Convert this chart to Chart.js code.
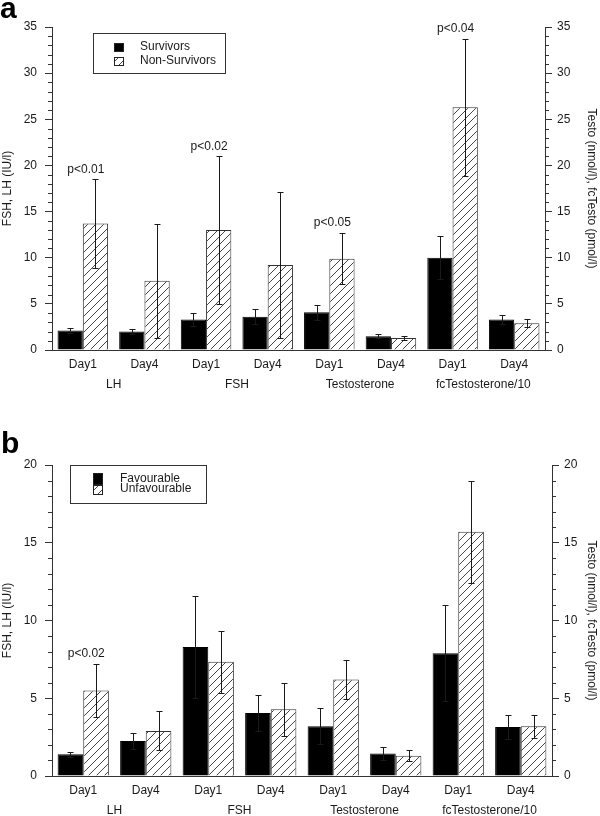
<!DOCTYPE html>
<html>
<head>
<meta charset="utf-8">
<script src="https://cdn.jsdelivr.net/npm/chart.js@4.4.0/dist/chart.umd.min.js"></script>
<style>
  html, body { margin: 0; padding: 0; background: #fff; }
  body { width: 600px; height: 816px; position: relative; overflow: hidden; font-family: "Liberation Sans", Arial, sans-serif; }
  .panel-letter { position: absolute; font-weight: bold; font-size: 30px; line-height: 1; color: #000; }
  #wrapA { position: absolute; left: 0; top: 0; width: 600px; height: 400px; }
  #wrapB { position: absolute; left: 0; top: 400px; width: 600px; height: 416px; }
</style>
</head>
<body>
<div id="wrapA"><canvas id="chartA"></canvas></div>
<div id="wrapB"><canvas id="chartB"></canvas></div>
<div class="panel-letter" style="left:0;top:-7px">a</div>
<div class="panel-letter" style="left:1px;top:428px">b</div>
<script>
// categories
const dayLabels = ['Day1', 'Day4', 'Day1', 'Day4', 'Day1', 'Day4', 'Day1', 'Day4'];
const groups = ['LH', 'FSH', 'Testosterone', 'fcTestosterone/10'];

// panel a: mean and error
const survivors = [2.1, 2.0, 3.3, 3.6, 4.1, 1.5, 10.0, 3.3];
const survivorsErr = [0.3, 0.3, 0.7, 0.8, 0.8, 0.2, 2.3, 0.5];
const nonSurvivors = [13.7, 7.5, 13.0, 9.2, 9.9, 1.3, 26.3, 2.9];
const nonSurvivorsErr = [4.8, 6.2, 8.0, 7.9, 2.8, 0.25, 7.4, 0.45];
const pLabelsA = [[0, 'p<0.01'], [2, 'p<0.02'], [4, 'p<0.05'], [6, 'p<0.04']];

// panel b
const favourable = [1.4, 2.25, 8.3, 4.05, 3.2, 1.45, 7.9, 3.15];
const favourableErr = [0.15, 0.5, 3.3, 1.15, 1.15, 0.4, 3.1, 0.75];
const unfavourable = [5.5, 2.9, 7.35, 4.3, 6.2, 1.3, 15.7, 3.2];
const unfavourableErr = [1.7, 1.25, 2.0, 1.7, 1.25, 0.35, 3.3, 0.75];
const pLabelsB = [[0, 'p<0.02']];

const leftTitle = 'FSH, LH (IU/l)';
const rightTitle = 'Testo (nmol/l), fcTesto (pmol/l)';

const FONT = '"Liberation Sans", Arial, sans-serif';
const TEXT = '#1a1a1a';
const AXIS = '#333';

function makeHatch(canvas) {
  const c = document.createElement('canvas');
  c.width = 8; c.height = 8;
  const g = c.getContext('2d');
  g.fillStyle = '#fff';
  g.fillRect(0, 0, 8, 8);
  g.strokeStyle = '#444';
  g.lineWidth = 1;
  g.beginPath();
  g.moveTo(0, 8); g.lineTo(8, 0);
  g.moveTo(-4, 4); g.lineTo(4, -4);
  g.moveTo(4, 12); g.lineTo(12, 4);
  g.stroke();
  return canvas.getContext('2d').createPattern(c, 'repeat');
}

// error bars, minor ticks, group labels, p labels, legend box
const extrasPlugin = {
  id: 'extras',
  afterDatasetsDraw(chart, args, opts) {
    const ctx = chart.ctx;
    const y = chart.scales.y;
    ctx.save();
    ctx.strokeStyle = '#1a1a1a';
    ctx.lineWidth = 1;
    chart.data.datasets.forEach((ds, di) => {
      const meta = chart.getDatasetMeta(di);
      meta.data.forEach((bar, i) => {
        const v = ds.data[i], e = ds.errors[i];
        const x = Math.round(bar.x) + 0.5;
        const yt = Math.round(y.getPixelForValue(v + e)) + 0.5;
        const yb = Math.round(y.getPixelForValue(v - e)) + 0.5;
        ctx.beginPath();
        ctx.moveTo(x, yb); ctx.lineTo(x, yt);
        ctx.moveTo(x - 3, yt); ctx.lineTo(x + 3, yt);
        ctx.moveTo(x - 3, yb); ctx.lineTo(x + 3, yb);
        ctx.stroke();
      });
    });
    ctx.restore();
  },
  afterDraw(chart, args, opts) {
    const ctx = chart.ctx;
    const xs = chart.scales.x, y = chart.scales.y, y2 = chart.scales.y2;
    const area = chart.chartArea;
    ctx.save();
    // minor ticks
    ctx.strokeStyle = AXIS;
    ctx.lineWidth = 1;
    ctx.beginPath();
    for (let v = y.min; v <= y.max; v++) {
      if (v % 5 === 0) continue;
      const py = Math.round(y.getPixelForValue(v)) + 0.5;
      ctx.moveTo(area.left, py); ctx.lineTo(area.left - 4, py);
      const py2 = Math.round(y2.getPixelForValue(v)) + 0.5;
      ctx.moveTo(area.right, py2); ctx.lineTo(area.right + 4, py2);
    }
    ctx.stroke();

    ctx.fillStyle = TEXT;
    ctx.font = '12px ' + FONT;
    ctx.textAlign = 'center';
    ctx.textBaseline = 'middle';
    // group labels
    groups.forEach((g, gi) => {
      const px = (xs.getPixelForValue(gi * 2) + xs.getPixelForValue(gi * 2 + 1)) / 2;
      ctx.fillText(g, px, area.bottom + opts.groupOffset);
    });
    // p values above the second series
    const ds = chart.data.datasets[1];
    ctx.textBaseline = 'bottom';
    opts.pLabels.forEach(([i, t]) => {
      const py = y.getPixelForValue(ds.data[i] + ds.errors[i]);
      ctx.fillText(t, xs.getPixelForValue(i) + 3, py - 4);
    });

    // legend
    const L = opts.legend;
    ctx.strokeStyle = AXIS;
    ctx.strokeRect(L.box[0] + 0.5, L.box[1] + 0.5, L.box[2], L.box[3]);
    ctx.textAlign = 'left';
    ctx.textBaseline = 'middle';
    L.items.forEach((it, di) => {
      const d = chart.data.datasets[di];
      ctx.fillStyle = d.backgroundColor;
      ctx.fillRect(it.sx, it.sy, it.sw, it.sh);
      ctx.strokeStyle = '#222';
      ctx.strokeRect(it.sx + 0.5, it.sy + 0.5, it.sw - 1, it.sh - 1);
      ctx.fillStyle = TEXT;
      ctx.fillText(d.label, it.tx, it.ty);
    });
    ctx.restore();
  }
};

function buildChart(id, cfg) {
  const canvas = document.getElementById(id);
  const hatch = makeHatch(canvas);
  const yAxis = (pos, width, pad) => ({
    position: pos,
    min: 0,
    max: cfg.max,
    ticks: {
      stepSize: 1,
      autoSkip: false,
      maxTicksLimit: 100,
      padding: pad,
      color: TEXT,
      font: { family: FONT, size: 12 },
      callback: v => (v % 5 === 0 ? v : '')
    },
    grid: {
      drawOnChartArea: false,
      tickLength: 7,
      tickColor: c => (c.tick && c.tick.value % 5 === 0 ? AXIS : 'rgba(0,0,0,0)')
    },
    border: { color: AXIS },
    title: {
      display: true,
      text: pos === 'left' ? leftTitle : rightTitle,
      color: TEXT,
      font: { family: FONT, size: 12, lineHeight: 1.2 },
      padding: { top: pos === 'left' ? 0 : 1, bottom: 0 }
    },
    afterFit: s => { s.width = width; }
  });

  return new Chart(canvas, {
    type: 'bar',
    data: {
      labels: dayLabels,
      datasets: [
        { label: cfg.names[0], data: cfg.a, errors: cfg.aErr, backgroundColor: '#000', borderColor: '#000', borderWidth: 1 },
        { label: cfg.names[1], data: cfg.b, errors: cfg.bErr, backgroundColor: hatch, borderColor: '#333', borderWidth: 1 }
      ]
    },
    options: {
      responsive: true,
      maintainAspectRatio: false,
      animation: false,
      devicePixelRatio: 1,
      categoryPercentage: 0.82,
      barPercentage: 1,
      layout: { padding: { top: cfg.top, left: 0, right: 0, bottom: 0 } },
      plugins: {
        legend: { display: false },
        tooltip: { enabled: false },
        extras: { groupOffset: cfg.groupOffset, pLabels: cfg.pLabels, legend: cfg.legend }
      },
      scales: {
        x: {
          grid: { display: false, drawTicks: false },
          border: { color: AXIS },
          ticks: { color: TEXT, font: { family: FONT, size: 12 }, padding: 7 },
          afterFit: s => { s.height = cfg.xHeight; }
        },
        y: yAxis('left', 52, 8),
        y2: yAxis('right', cfg.rightWidth, 5)
      }
    },
    plugins: [extrasPlugin]
  });
}

buildChart('chartA', {
  max: 35, top: 27, xHeight: 50, rightWidth: 55, groupOffset: 35,
  names: ['Survivors', 'Non-Survivors'],
  a: survivors, aErr: survivorsErr, b: nonSurvivors, bErr: nonSurvivorsErr,
  pLabels: pLabelsA,
  legend: {
    box: [93, 33, 132, 40],
    items: [
      { sx: 114, sy: 43, sw: 10, sh: 9, tx: 140, ty: 47 },
      { sx: 114, sy: 57, sw: 10, sh: 9, tx: 140, ty: 61 }
    ]
  }
});

buildChart('chartB', {
  max: 20, top: 65, xHeight: 40, rightWidth: 48, groupOffset: 35,
  names: ['Favourable', 'Unfavourable'],
  a: favourable, aErr: favourableErr, b: unfavourable, bErr: unfavourableErr,
  pLabels: pLabelsB,
  legend: {
    box: [70, 65, 136, 38],
    items: [
      { sx: 93, sy: 73, sw: 10, sh: 12, tx: 120, ty: 79 },
      { sx: 93, sy: 85, sw: 10, sh: 10, tx: 120, ty: 89 }
    ]
  }
});
</script>
</body>
</html>
